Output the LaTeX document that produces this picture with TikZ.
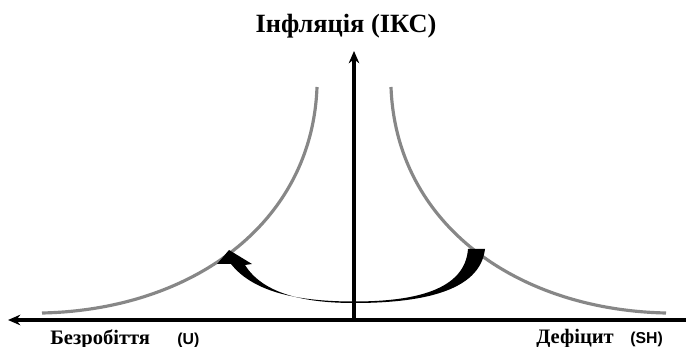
\documentclass[tikz,border=0pt]{standalone}
\usepackage{fontspec}
\setmainfont{Liberation Serif}
\newfontfamily\lblsans{Liberation Sans}
\usetikzlibrary{arrows.meta}

\begin{document}
\begin{tikzpicture}[x=0.02cm, y=-0.02cm,
  axis/.style={line width=1.9pt, -{Stealth[length=7pt, width=6pt]}},
  curve/.style={line width=1.8pt, color=curvegray},
  title/.style={font=\bfseries\fontsize{15}{18}\selectfont, inner sep=0pt, anchor=base},
  label/.style={font=\bfseries\fontsize{11.7}{14}\selectfont, inner sep=0pt, anchor=base west},
  unit/.style={font=\lblsans\bfseries\fontsize{9}{11}\selectfont, inner sep=0pt, anchor=base west}]
  \definecolor{curvegray}{RGB}{135,135,135}

  \useasboundingbox (0,0) rectangle (686,347);

  \coordinate (O)  at (354,320);
  \coordinate (xl) at (8,320);
  \coordinate (xr) at (686,320);
  \coordinate (yt) at (354,51);

  \draw[axis] (xr) -- (xl);
  \draw[axis] (O) -- (yt);

  \draw[curve] (42,313) .. controls (190,310) and (312,225) .. (317,87);
  \draw[curve] (666,313) .. controls (518,310) and (396,225) .. (391,87);

  \fill[black] (485,249) .. controls (480,292) and (420,303) .. (354,303)
    .. controls (300,303) and (262,292) .. (245,265)
    -- (252,264) -- (229,250) -- (217,264) -- (231,264)
    .. controls (254,293) and (300,301.5) .. (354,301.5)
    .. controls (415,301.5) and (465,290) .. (468,249) -- cycle;

  \node[title] (infl) at (346,33) {Інфляція (ІКС)};
  \node[label] (unemp) at (50,345) {Безробіття};
  \node[unit] (u) at (177,345) {(U)};
  \node[label] (def) at (536,344) {Дефіцит};
  \node[unit] (sh) at (630,344) {(SH)};

\end{tikzpicture}
\end{document}
